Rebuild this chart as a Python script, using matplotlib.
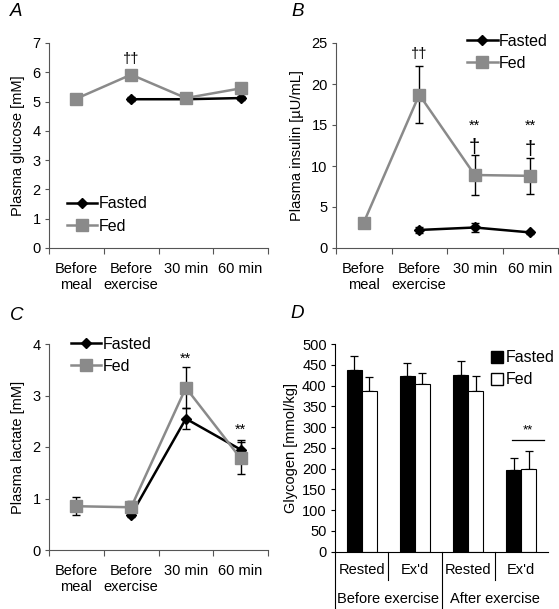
import numpy as np
import matplotlib
matplotlib.use("Agg")
import matplotlib.pyplot as plt
from matplotlib.lines import Line2D
from matplotlib.patches import Patch

plt.rcParams['font.family'] = ['Liberation Sans', 'DejaVu Sans']

# ---------------- data ----------------
time_labels = ["Before\nmeal", "Before\nexercise", "30 min", "60 min"]

glucose_fasted = [np.nan, 5.08, 5.08, 5.12]
glucose_fasted_err = [0, 0.06, 0.12, 0.07]
glucose_fed = [5.10, 5.92, 5.12, 5.45]
glucose_fed_err = [0.05, 0.13, 0.15, 0.10]

insulin_fasted = [np.nan, 2.2, 2.5, 1.9]
insulin_fasted_err = [0, 0.35, 0.5, 0.15]
insulin_fed = [3.1, 18.7, 8.9, 8.8]
insulin_fed_err = [0.45, 3.5, 2.4, 2.2]

lactate_fasted = [np.nan, 0.68, 2.55, 1.95]
lactate_fasted_err = [0, 0.04, 0.21, 0.18]
lactate_fed = [0.85, 0.83, 3.15, 1.78]
lactate_fed_err = [0.18, 0.12, 0.40, 0.31]

glyc_cats = ["Rested", "Ex'd", "Rested", "Ex'd"]
glyc_groups = ["Before exercise", "After exercise"]
glyc_fasted = [438, 424, 426, 196]
glyc_fasted_err = [33, 31, 34, 30]
glyc_fed = [388, 403, 386, 198]
glyc_fed_err = [32, 26, 36, 44]

W, H = 559, 609
fig = plt.figure(figsize=(W / 100, H / 100), dpi=100)

def px_axes(left, top, right, bottom):
    return fig.add_axes([left / W, 1 - bottom / H, (right - left) / W, (bottom - top) / H])

FS = 10.5
LFS = 11.5
SPINE = '#555555'
GRAY = '#8a8a8a'

def style_line_axes(ax, ymax, ystep):
    ax.set_xlim(0, 4)
    ax.set_ylim(0, ymax)
    ax.set_yticks(np.arange(0, ymax + 0.001, ystep))
    ax.set_xticks([0, 1, 2, 3, 4])
    ax.set_xticklabels([])
    ax.set_xticks([0.5, 1.5, 2.5, 3.5], minor=True)
    ax.set_xticklabels(time_labels, minor=True, fontsize=FS)
    ax.tick_params(axis='x', which='minor', length=0, pad=10)
    ax.tick_params(axis='x', which='major', length=4, direction='out', color=SPINE)
    ax.tick_params(axis='y', length=3, direction='out', labelsize=FS, color=SPINE, pad=3)
    for s in ['top', 'right']:
        ax.spines[s].set_visible(False)
    for s in ['left', 'bottom']:
        ax.spines[s].set_color(SPINE)
        ax.spines[s].set_linewidth(0.8)

def draw_series(ax, fasted, fasted_err, fed, fed_err):
    x = np.array([0.5, 1.5, 2.5, 3.5])
    ax.errorbar(x, fasted, yerr=fasted_err, color='black', lw=1.8, marker='D', ms=5,
                ecolor='black', elinewidth=1.0, capsize=3, capthick=1.0, zorder=3)
    ax.errorbar(x, fed, yerr=fed_err, color=GRAY, lw=1.8, marker='s', ms=8.5,
                mfc=GRAY, mec=GRAY, ecolor='black', elinewidth=1.0, capsize=3,
                capthick=1.0, zorder=4)

def add_legend(ax, loc, anchor):
    handles = [Line2D([], [], color='black', lw=1.8, marker='D', ms=5),
               Line2D([], [], color=GRAY, lw=1.8, marker='s', ms=8.5)]
    ax.legend(handles, ["Fasted", "Fed"], loc=loc, bbox_to_anchor=anchor, frameon=False,
              fontsize=LFS, handlelength=1.9, handletextpad=0.1, labelspacing=0.45,
              borderpad=0, borderaxespad=0)

# ---------------- Panel A ----------------
axA = px_axes(49, 43, 268, 248)
style_line_axes(axA, 7, 1)
draw_series(axA, glucose_fasted, glucose_fasted_err, glucose_fed, glucose_fed_err)
axA.set_ylabel("Plasma glucose [mM]", fontsize=FS, labelpad=5)
axA.text(1.5, 6.45, "††", ha='center', va='center', fontsize=FS)
add_legend(axA, 'lower left', (0.08, 0.07))

# ---------------- Panel B ----------------
axB = px_axes(336, 43, 558, 248)
style_line_axes(axB, 25, 5)
draw_series(axB, insulin_fasted, insulin_fasted_err, insulin_fed, insulin_fed_err)
axB.set_ylabel("Plasma insulin [µU/mL]", fontsize=FS, labelpad=5)
axB.text(1.5, 23.6, "††", ha='center', va='center', fontsize=FS)
axB.text(2.5, 12.3, "†", ha='center', va='center', fontsize=FS + 4)
axB.text(3.5, 12.0, "†", ha='center', va='center', fontsize=FS + 4)
axB.text(2.5, 14.9, "**", ha='center', va='center', fontsize=FS)
axB.text(3.5, 14.9, "**", ha='center', va='center', fontsize=FS)
add_legend(axB, 'upper right', (0.955, 1.045))

# ---------------- Panel C ----------------
axC = px_axes(49, 344, 268, 550)
style_line_axes(axC, 4, 1)
draw_series(axC, lactate_fasted, lactate_fasted_err, lactate_fed, lactate_fed_err)
axC.set_ylabel("Plasma lactate [mM]", fontsize=FS, labelpad=5)
axC.text(2.5, 3.72, "**", ha='center', va='center', fontsize=FS)
axC.text(3.5, 2.33, "**", ha='center', va='center', fontsize=FS)
add_legend(axC, 'upper left', (0.10, 1.035))

# ---------------- Panel D ----------------
axD = px_axes(335, 344, 548, 551.7)
xi = np.arange(4)
bw = 0.28
axD.bar(xi + 0.36, glyc_fasted, bw, color='black', edgecolor='black', lw=0.8, zorder=2)
axD.bar(xi + 0.64, glyc_fed, bw, color='white', edgecolor='black', lw=0.8, zorder=2)
axD.errorbar(xi + 0.36, glyc_fasted, yerr=[np.zeros(4), glyc_fasted_err], fmt='none',
             ecolor='black', elinewidth=0.9, capsize=3, capthick=0.9, zorder=1)
axD.errorbar(xi + 0.64, glyc_fed, yerr=[np.zeros(4), glyc_fed_err], fmt='none',
             ecolor='black', elinewidth=0.9, capsize=3, capthick=0.9, zorder=1)
axD.set_xlim(0, 4)
axD.set_ylim(0, 500)
axD.set_yticks(np.arange(0, 501, 50))
axD.set_xticks([])
axD.tick_params(axis='y', length=3, direction='out', labelsize=FS, pad=3)
for s in ['top', 'right']:
    axD.spines[s].set_visible(False)
for s in ['left', 'bottom']:
    axD.spines[s].set_linewidth(0.8)
axD.set_ylabel("Glycogen [mmol/kg]", fontsize=FS, labelpad=3)
axD.plot([3.32, 3.93], [268, 268], color='black', lw=0.9)
axD.text(3.62, 292, "**", ha='center', va='center', fontsize=FS - 1)

tr = axD.get_xaxis_transform()
for xv, yb in [(0, -0.28), (1, -0.136), (2, -0.28), (3, -0.136)]:
    axD.plot([xv, xv], [0, yb], color='black', lw=0.8, transform=tr, clip_on=False)
for i, lab in enumerate(glyc_cats):
    axD.text(i + 0.5, -0.088, lab, ha='center', va='center', fontsize=FS, transform=tr)
for i, lab in enumerate(glyc_groups):
    axD.text(2 * i + 1, -0.228, lab, ha='center', va='center', fontsize=FS, transform=tr)

handlesD = [Patch(facecolor='black', edgecolor='black'),
            Patch(facecolor='white', edgecolor='black')]
axD.legend(handlesD, ["Fasted", "Fed"], loc='upper right', bbox_to_anchor=(1.03, 0.97),
           frameon=False, fontsize=LFS, handlelength=0.75, handleheight=0.75,
           handletextpad=0.15, labelspacing=0.45, borderpad=0, borderaxespad=0)

# panel letters
for lab, (x, y) in {"A": (16, 12), "B": (298, 12), "C": (17, 315), "D": (297, 314)}.items():
    fig.text(x / W, 1 - y / H, lab, ha='center', va='center', fontsize=13.5, style='italic')

fig.savefig("out.png", dpi=100)
